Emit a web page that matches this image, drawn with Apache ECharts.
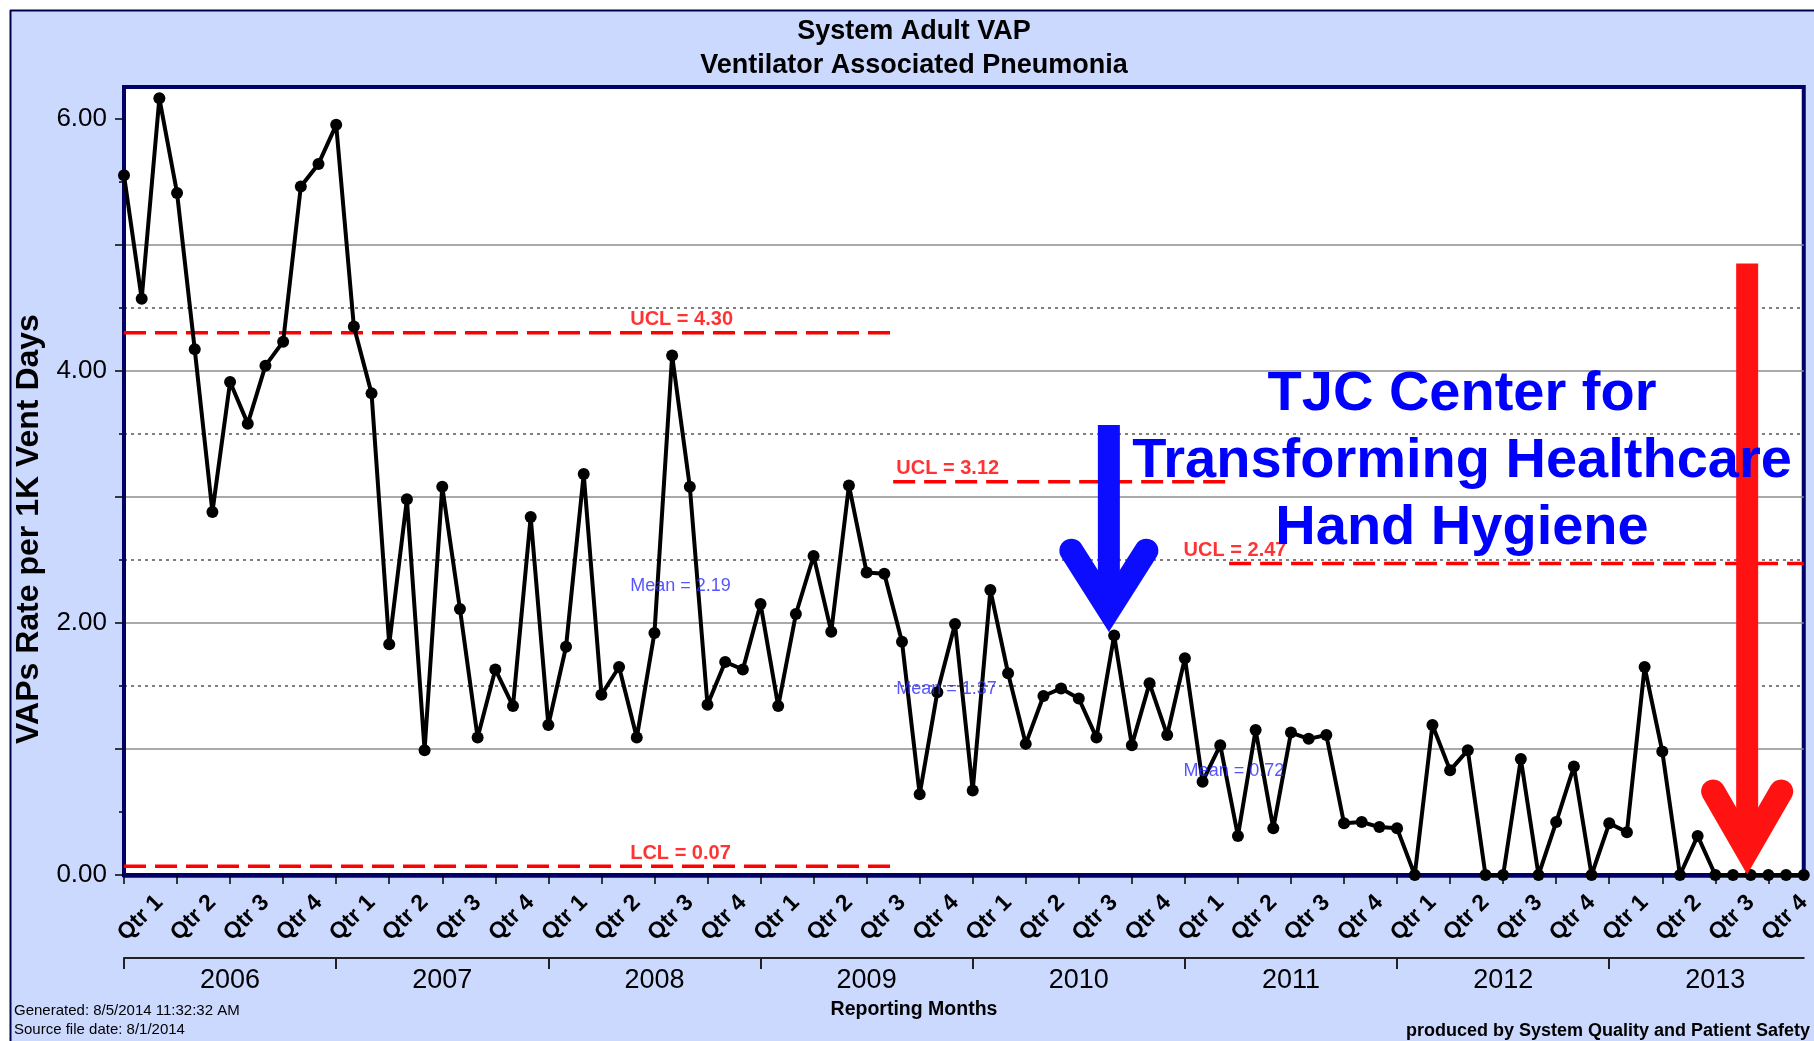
<!DOCTYPE html>
<html>
<head>
<meta charset="utf-8">
<title>System Adult VAP</title>
<script src="https://cdn.jsdelivr.net/npm/echarts@6/dist/echarts.min.js"></script>
<style>
  html, body { margin: 0; padding: 0; background: #fff; }
  #chart { width: 1814px; height: 1041px; }
</style>
</head>
<body>
<div id="chart"></div>
<script>
// VAPs per 1K vent days, one value per month, Jan 2006 .. Dec 2013
let years = ['2006', '2007', '2008', '2009', '2010', '2011', '2012', '2013'];
let quarters = ['Qtr 1', 'Qtr 2', 'Qtr 3', 'Qtr 4'];
let vapRate = [
  5.55, 4.57, 6.16, 5.41, 4.17, 2.88, 3.91, 3.58, 4.04, 4.23, 5.46, 5.64,
  5.95, 4.35, 3.82, 1.83, 2.98, 0.99, 3.08, 2.11, 1.09, 1.63, 1.34, 2.84,
  1.19, 1.81, 3.18, 1.43, 1.65, 1.09, 1.92, 4.12, 3.08, 1.35, 1.69, 1.63,
  2.15, 1.34, 2.07, 2.53, 1.93, 3.09, 2.40, 2.39, 1.85, 0.64, 1.45, 1.99,
  0.67, 2.26, 1.60, 1.04, 1.42, 1.48, 1.40, 1.09, 1.90, 1.03, 1.52, 1.11,
  1.72, 0.74, 1.03, 0.31, 1.15, 0.37, 1.13, 1.08, 1.11, 0.41, 0.42, 0.38,
  0.37, 0.00, 1.19, 0.83, 0.99, 0.00, 0.00, 0.92, 0.00, 0.42, 0.86, 0.00,
  0.41, 0.34, 1.65, 0.98, 0.00, 0.31, 0.00, 0.00, 0.00, 0.00, 0.00, 0.00
];

// control chart phases (month index)
let phaseStart = [0, 43.5, 62.5];
let phaseEnd = [43.5, 62.5, 95];
let ucl = [4.30, 3.12, 2.47];
let mean = [2.19, 1.37, 0.72];
let lcl = [0.07, null, null];

// annotation arrows: month, top of shaft, tip
let arrowMonth = [55.7, 91.8];
let arrowTop = [3.57, 4.85];
let arrowTip = [1.93, 0.02];

const FONT = '"Liberation Sans", Arial, sans-serif';
const NAVY = '#000066';
let last = vapRate.length - 1;

let range = (a, b, step) => { let r = []; for (let v = a; v <= b + 1e-9; v += step) r.push(v); return r; };

// where the text labels of each phase sit (month index)
let labelAt = [28.6, 43.65, 59.9];

let limitSeries = [];
phaseStart.forEach((s, i) => {
  let dash = { color: '#ff0000', width: 3.5, type: [22, 9] };
  limitSeries.push({ type: 'line', silent: true, symbol: 'none', z: 2,
    data: [[s, ucl[i]], [phaseEnd[i], ucl[i]]], lineStyle: dash });
  if (lcl[i] != null) {
    limitSeries.push({ type: 'line', silent: true, symbol: 'none', z: 2,
      data: [[s, lcl[i]], [phaseEnd[i], lcl[i]]], lineStyle: dash });
  }
});

let noteData = [];
phaseStart.forEach((s, i) => {
  let red = { color: '#ff0000', fontWeight: 'bold', fontSize: 20 };
  let blue = { color: '#2b2bff', fontWeight: 'normal', fontSize: 18 };
  noteData.push({ value: [labelAt[i], ucl[i]], name: 'UCL = ' + ucl[i].toFixed(2), label: red });
  noteData.push({ value: [labelAt[i], mean[i]], name: 'Mean = ' + mean[i].toFixed(2), label: blue });
  if (lcl[i] != null) noteData.push({ value: [labelAt[i], lcl[i]], name: 'LCL = ' + lcl[i].toFixed(2), label: red });
});

let txt = (text, x, y, font, opts) => ({
  type: 'text', x: x, y: y, silent: true, z: 50,
  style: Object.assign({ text: text, font: font, fill: '#000',
    align: 'center', textAlign: 'center', verticalAlign: 'middle', textVerticalAlign: 'middle' }, opts || {})
});

let myChart = echarts.init(document.getElementById('chart'));
let option = {
  animation: false,
  backgroundColor: '#ccd9ff',
  textStyle: { fontFamily: FONT },
  grid: { left: 124, right: 5, top: 87, bottom: 166, show: true,
    backgroundColor: '#ffffff', borderColor: NAVY, borderWidth: 4 },
  xAxis: [
    {
      type: 'value', min: 0, max: last, interval: 3, position: 'bottom',
      axisLine: { show: true, onZero: false, lineStyle: { color: NAVY, width: 4.5 } },
      axisTick: { show: true, customValues: range(0, 93, 3), length: 9, lineStyle: { color: '#000', width: 1.5 } },
      axisLabel: { customValues: range(2, last, 3), rotate: 45, margin: 24, fontSize: 23,
        fontWeight: 'bold', color: '#000', fontFamily: FONT,
        formatter: v => quarters[Math.round((v - 2) / 3) % 4] },
      splitLine: { show: false }
    },
    {
      type: 'value', min: 0, max: last, position: 'bottom', offset: 83,
      axisLine: { show: true, onZero: false, lineStyle: { color: '#222', width: 2 } },
      axisTick: { show: true, customValues: range(0, 84, 12), length: 11, lineStyle: { color: '#222', width: 2 } },
      axisLabel: { customValues: range(6, 90, 12), margin: 9, fontSize: 27, color: '#000', fontFamily: FONT,
        formatter: v => years[Math.round((v - 6) / 12)] },
      splitLine: { show: false }
    }
  ],
  yAxis: [
    {
      type: 'value', min: 0, max: 6.25, interval: 1, position: 'left', z: 1,
      axisLine: { show: true, onZero: false, lineStyle: { color: NAVY, width: 4 } },
      axisTick: { show: true, customValues: range(0, 6, 1), length: 9, lineStyle: { color: '#000', width: 1.5 } },
      axisLabel: { customValues: [0, 2, 4, 6], formatter: v => v.toFixed(2), fontSize: 26,
        color: '#000', margin: 17, fontFamily: FONT },
      splitLine: { show: true, showMinLine: false, showMaxLine: false,
        lineStyle: { color: '#8c8c8c', width: 1.5 } }
    },
    {
      type: 'value', min: 0, max: 6.25, interval: 0.5, position: 'left', z: 0,
      axisLine: { show: false },
      axisLabel: { show: false },
      axisTick: { show: true, customValues: range(0.5, 5.5, 1), length: 5, lineStyle: { color: '#000', width: 1.5 } },
      splitLine: { show: true, showMinLine: false, showMaxLine: false,
        lineStyle: { color: '#555', width: 1.5, type: [3, 4] } }
    }
  ],
  series: [
    ...limitSeries,
    {
      type: 'scatter', silent: true, z: 4, symbolSize: 1,
      itemStyle: { color: 'rgba(0,0,0,0)' },
      data: noteData,
      label: { show: true, position: 'right', distance: 0, offset: [0, -13],
        fontFamily: FONT, formatter: p => p.name }
    },
    {
      name: 'VAP rate', type: 'line', z: 3, clip: false,
      data: vapRate.map((v, i) => [i, v]),
      symbol: 'circle', symbolSize: 12,
      lineStyle: { color: '#000', width: 4 },
      itemStyle: { color: '#000' }
    },
    {
      type: 'custom', z: 10, silent: true,
      data: arrowMonth.map((m, i) => [m, arrowTop[i], arrowTip[i]]),
      encode: { x: 0, y: [1, 2] },
      renderItem: function (params, api) {
        let top = api.coord([api.value(0), api.value(1)]);
        let tip = api.coord([api.value(0), api.value(2)]);
        let color = ['#0c0cff', '#ff1212'][params.dataIndex];
        let arm = params.dataIndex === 0 ? 37.5 : 34;
        let vx = tip[0], vy = tip[1] - 22;
        return {
          type: 'group',
          children: [
            { type: 'line', shape: { x1: top[0], y1: top[1], x2: vx, y2: vy },
              style: { stroke: color, lineWidth: 22, lineCap: 'butt' } },
            { type: 'polyline',
              shape: { points: [[vx - arm, tip[1] - 81], [vx, vy], [vx + arm, tip[1] - 81]] },
              style: { stroke: color, fill: null, lineWidth: 24, lineCap: 'round', lineJoin: 'miter', miterLimit: 10 } }
          ]
        };
      }
    }
  ],
  graphic: [
    { type: 'rect', silent: true, shape: { x: 0, y: 0, width: 1814, height: 10 }, style: { fill: '#fff' } },
    { type: 'rect', silent: true, shape: { x: 0, y: 0, width: 10, height: 1041 }, style: { fill: '#fff' } },
    { type: 'line', silent: true, shape: { x1: 10, y1: 10.5, x2: 1814, y2: 10.5 }, style: { stroke: '#00004d', lineWidth: 2 } },
    { type: 'line', silent: true, shape: { x1: 10.5, y1: 10, x2: 10.5, y2: 1041 }, style: { stroke: '#00004d', lineWidth: 2 } },
    txt('System Adult VAP', 914, 32, 'bold 27px ' + FONT),
    txt('Ventilator Associated Pneumonia', 914, 66, 'bold 27px ' + FONT),
    Object.assign(txt('VAPs Rate per 1K Vent Days', 29, 529, 'bold 32px ' + FONT), { rotation: Math.PI / 2 }),
    txt('Reporting Months', 914, 1010, 'bold 19.5px ' + FONT),
    txt('Generated: 8/5/2014 11:32:32 AM', 14, 1011, '15px ' + FONT, { align: 'left', textAlign: 'left' }),
    txt('Source file date: 8/1/2014', 14, 1030, '15px ' + FONT, { align: 'left', textAlign: 'left' }),
    txt('produced by System Quality and Patient Safety', 1810, 1031, 'bold 18px ' + FONT, { align: 'right', textAlign: 'right' }),
    txt('TJC Center for\nTransforming Healthcare\nHand Hygiene', 1462, 462, 'bold 56px ' + FONT,
      { fill: '#0000ff', lineHeight: 67 })
  ]
};
myChart.setOption(option);
</script>
</body>
</html>
